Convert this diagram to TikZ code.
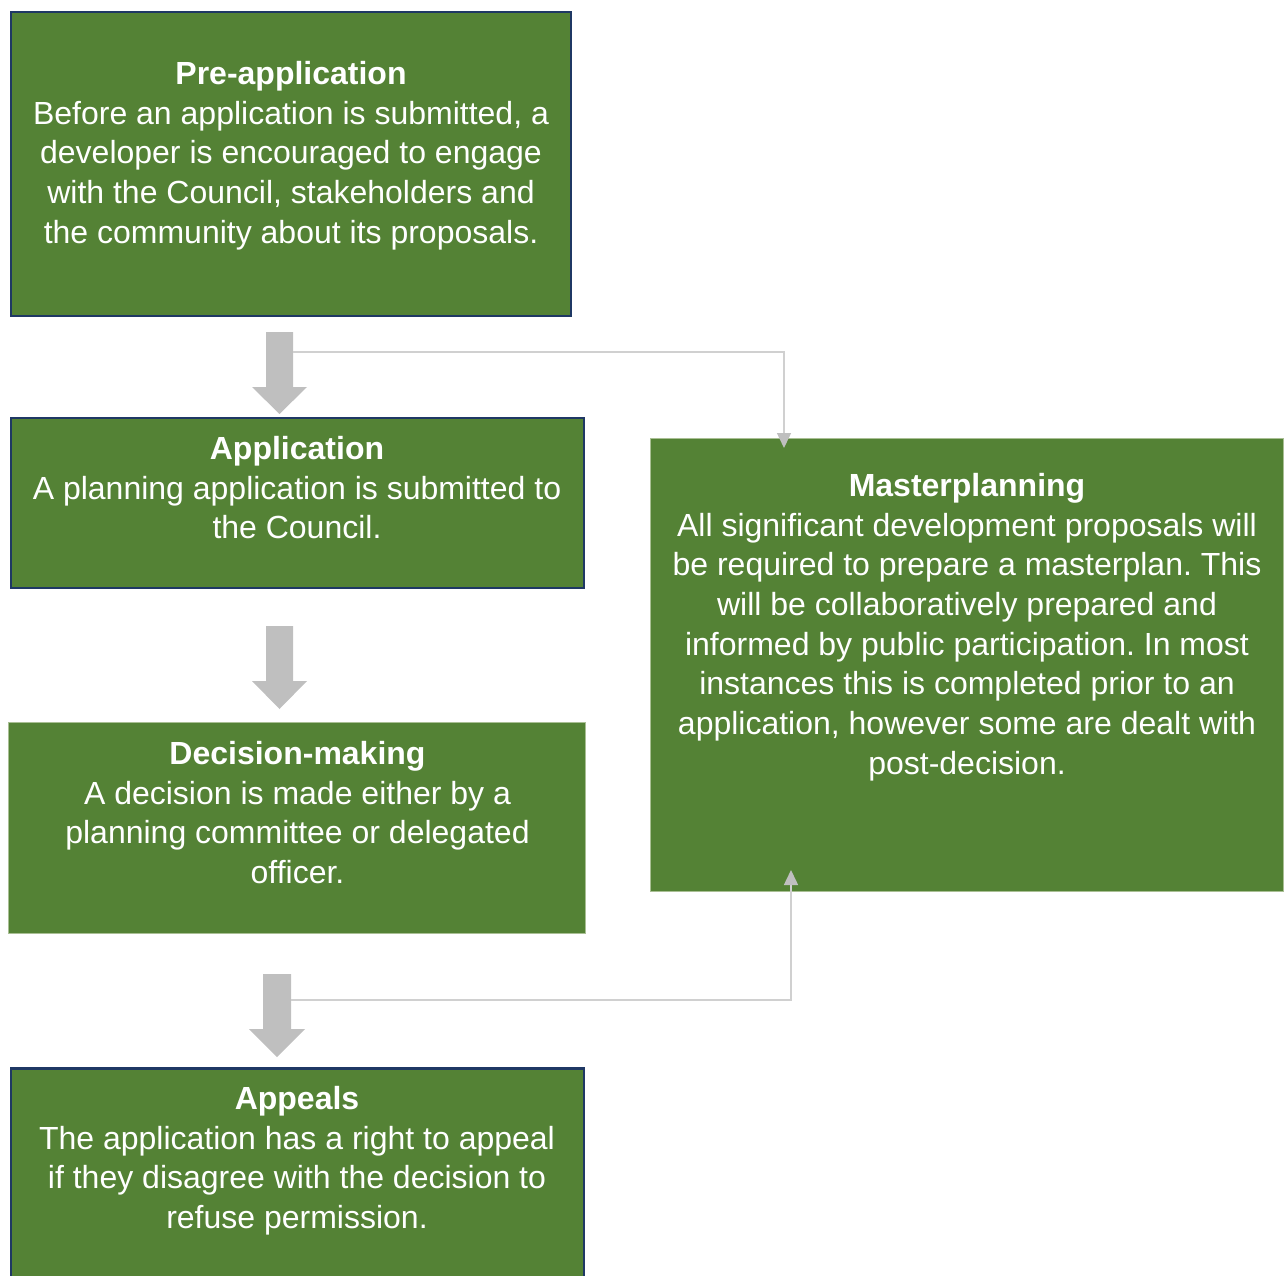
\documentclass[tikz,border=0pt]{standalone}
\usepackage{fontspec}
\setmainfont{Liberation Sans}
\usetikzlibrary{arrows.meta}
\definecolor{boxgreen}{HTML}{548235}
\definecolor{boxedge}{HTML}{1F3864}
\definecolor{lightedge}{HTML}{A9BF94}
\definecolor{bigarrow}{HTML}{BFBFBF}
\definecolor{thinline}{HTML}{D0D0D0}
\frenchspacing
\begin{document}
\begin{tikzpicture}[x=1pt,y=-1pt,
  darkbox/.style={draw=boxedge, line width=2.5pt, fill=boxgreen, inner sep=0pt},
  plainbox/.style={draw=lightedge, line width=0.8pt, fill=boxgreen, inner sep=0pt},
  txt/.style={anchor=north, inner sep=0pt, align=center, text=white, font=\fontsize{32}{39.7}\selectfont\frenchspacing},
  blockarrow/.style={fill=bigarrow},
  link/.style={draw=thinline, line width=1.5pt, -{Triangle[width=14pt,length=15pt,color=bigarrow]}}]
\useasboundingbox (0,0) rectangle (1285,1276);

% boxes
\node[darkbox, minimum width=560pt, minimum height=304pt] (pre) at (291,164) {};
\node[darkbox, minimum width=573pt, minimum height=170pt] (app) at (297.5,503) {};
\node[plainbox, minimum width=577pt, minimum height=211pt] (dec) at (297,828) {};
\node[plainbox, minimum width=633pt, minimum height=453pt] (mp) at (967,665) {};
\node[darkbox, minimum width=573pt, minimum height=231pt] (appeal) at (297.5,1184) {};

% texts
\node[txt] (pretxt) at (291,61) {\textbf{Pre-application}\\Before an application is submitted, a\\developer is encouraged to engage\\with the Council, stakeholders and\\the community about its proposals.};
\node[txt] (apptxt) at (297,436) {\textbf{Application}\\A planning application is submitted to\\the Council.};
\node[txt] (dectxt) at (297.5,741) {\textbf{Decision-making}\\A decision is made either by a\\planning committee or delegated\\officer.};
\node[txt] (mptxt) at (967,473) {\textbf{Masterplanning}\\All significant development proposals will\\be required to prepare a masterplan. This\\will be collaboratively prepared and\\informed by public participation. In most\\instances this is completed prior to an\\application, however some are dealt with\\post-decision.};
\node[txt] (appealtxt) at (297,1086) {\textbf{Appeals}\\The application has a right to appeal\\if they disagree with the decision to\\refuse permission.};

% block arrows
\fill[blockarrow] (266,332) -- (293,332) -- (293,387) -- (307,387) -- (279.5,414) -- (252,387) -- (266,387) -- cycle;
\fill[blockarrow] (266,626) -- (293,626) -- (293,681) -- (307,681) -- (279.5,709) -- (252,681) -- (266,681) -- cycle;
\fill[blockarrow] (263,974) -- (291,974) -- (291,1029) -- (305,1029) -- (277,1057) -- (249,1029) -- (263,1029) -- cycle;

% connectors
\coordinate (a1r) at (293,352);
\coordinate (m1) at (784,448);
\coordinate (a3r) at (291,1000);
\coordinate (m2) at (791,870);
\draw[link] (a1r) -| (m1);
\draw[link] (a3r) -| (m2);
\end{tikzpicture}
\end{document}
